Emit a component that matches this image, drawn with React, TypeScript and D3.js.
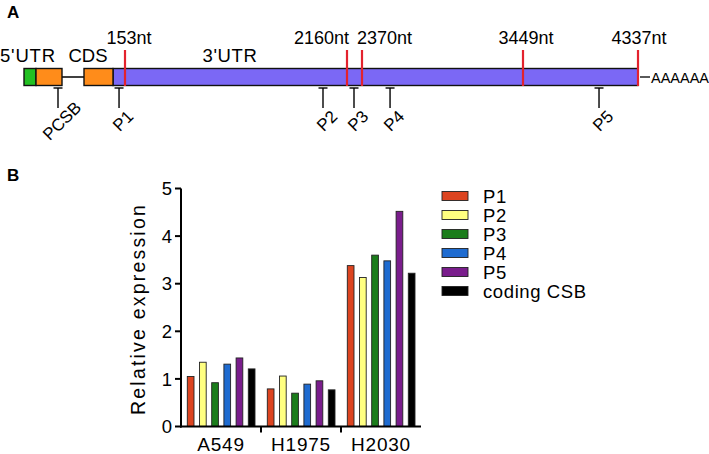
import React from "react";
import * as d3 from "d3";

// ---------- Data ----------
const siteNt = [153, 2160, 2370, 3449, 4337];
const siteLabels = ["153nt", "2160nt", "2370nt", "3449nt", "4337nt"];
const probeNames = ["PCSB", "P1", "P2", "P3", "P4", "P5"];
const probeNt = [-55, 77, 1943, 2258, 2558, 4036];

const cellLines = ["A549", "H1975", "H2030"];
const seriesNames = ["P1", "P2", "P3", "P4", "P5", "coding CSB"];
const valuesA549 = [1.05, 1.35, 0.92, 1.31, 1.44, 1.21];
const valuesH1975 = [0.79, 1.06, 0.7, 0.89, 0.96, 0.77];
const valuesH2030 = [3.38, 3.13, 3.6, 3.48, 4.52, 3.22];
const yTicks = [0, 1, 2, 3, 4, 5];

const seriesColors = ["#dc4420", "#ffff80", "#1b7d1b", "#1e6bd0", "#7a1d8c", "#000000"];

const FONT = "'Liberation Sans', Arial, Helvetica, sans-serif";

export default function App() {
  const rows = [valuesA549, valuesH1975, valuesH2030];

  // Panel A scales
  const utrScale = d3
    .scaleLinear()
    .domain([0, 153, 2160, 2370, 3449, 4337])
    .range([113, 125, 347, 362, 523, 638]);
  const upScale = d3.scaleLinear().domain([-89, 0]).range([24, 113]);
  const px = (nt: number) => (nt < 0 ? upScale(nt) : utrScale(nt));

  const labelShift = [
    { anchor: "middle", dx: 4 },
    { anchor: "end", dx: 2 },
    { anchor: "start", dx: -5 },
    { anchor: "middle", dx: 3 },
    { anchor: "middle", dx: 1 },
  ];

  const rectY = 68.5;
  const rectH = 17;

  // Panel B scales
  const y = d3.scaleLinear().domain([0, 5]).range([426.5, 188.5]);
  const xGroup = d3.scaleBand<string>().domain(cellLines).range([181, 421]).padding(0);
  const xInner = d3
    .scaleBand<string>()
    .domain(seriesNames)
    .range([6.3, 74])
    .paddingInner(0.451)
    .paddingOuter(0);

  return (
    <svg
      width={709}
      height={454}
      style={{ position: "absolute", left: 0, top: 0, background: "#fff" }}
      fontFamily={FONT}
    >
      {/* Panel labels */}
      <text x={7} y={18} fontSize={17} fontWeight="bold">A</text>
      <text x={7} y={181} fontSize={17} fontWeight="bold">B</text>

      {/* Region labels */}
      <text x={0} y={62} fontSize={18.5} letterSpacing={0.8}>5'UTR</text>
      <text x={88} y={62} fontSize={18.5} textAnchor="middle">CDS</text>
      <text x={230} y={62} fontSize={18.5} textAnchor="middle" letterSpacing={0.6}>3'UTR</text>

      {/* Transcript */}
      <line x1={upScale(-51)} x2={upScale(-29)} y1={rectY + rectH / 2} y2={rectY + rectH / 2} stroke="#000" strokeWidth={1.5} />
      <rect x={utrScale(0)} y={rectY} width={utrScale(4337) - utrScale(0)} height={rectH} fill="#7b68f5" stroke="#111" strokeWidth={1.4} />
      <rect x={upScale(-89)} y={rectY} width={upScale(-77) - upScale(-89)} height={rectH} fill="#22c022" stroke="#111" strokeWidth={1.4} />
      <rect x={upScale(-77)} y={rectY} width={upScale(-51) - upScale(-77)} height={rectH} fill="#ff8c1a" stroke="#111" strokeWidth={1.4} />
      <rect x={upScale(-29)} y={rectY} width={upScale(0) - upScale(-29)} height={rectH} fill="#ff8c1a" stroke="#111" strokeWidth={1.4} />

      {/* Red sites */}
      {siteNt.map((nt, i) => (
        <g key={nt}>
          <line x1={utrScale(nt)} x2={utrScale(nt)} y1={50} y2={86} stroke="#e3222e" strokeWidth={2.2} />
          <text
            x={utrScale(nt) + labelShift[i].dx}
            y={44}
            fontSize={18}
            textAnchor={labelShift[i].anchor as any}
          >
            {siteLabels[i]}
          </text>
        </g>
      ))}

      {/* Poly-A tail */}
      <line x1={640} x2={650} y1={77} y2={77} stroke="#000" strokeWidth={1.3} />
      <text x={651} y={82.5} fontSize={14.5}>AAAAAA</text>

      {/* Probes */}
      {probeNt.map((nt, i) => {
        const x = px(nt);
        return (
          <g key={probeNames[i]}>
            <line x1={x - 4.5} x2={x + 4.5} y1={88} y2={88} stroke="#000" strokeWidth={1.4} />
            <line x1={x} x2={x} y1={88} y2={108} stroke="#000" strokeWidth={1.4} />
            <text
              transform={`translate(${x + 8},${125}) rotate(-45)`}
              fontSize={17}
              textAnchor="middle"
            >
              {probeNames[i]}
            </text>
          </g>
        );
      })}

      {/* Panel B bars */}
      {cellLines.map((cl, gi) => (
        <g key={cl} transform={`translate(${xGroup(cl)},0)`}>
          {rows[gi].map((v, si) => (
            <rect
              key={si}
              x={xInner(seriesNames[si])}
              y={y(v)}
              width={xInner.bandwidth()}
              height={y(0) - y(v)}
              fill={seriesColors[si]}
              stroke="#222"
              strokeWidth={0.9}
            />
          ))}
        </g>
      ))}

      {/* Y axis */}
      <line x1={181} x2={181} y1={y(5)} y2={y(0) + 1} stroke="#000" strokeWidth={2} />
      {yTicks.map((t) => (
        <g key={t}>
          <line x1={175} x2={181} y1={y(t)} y2={y(t)} stroke="#000" strokeWidth={2} />
          <text x={172} y={y(t)} dy="0.36em" fontSize={18.5} textAnchor="end">
            {t}
          </text>
        </g>
      ))}
      <text
        transform={`translate(${145},${309}) rotate(-90)`}
        fontSize={19.5}
        letterSpacing={2.2}
        textAnchor="middle"
      >
        Relative expression
      </text>

      {/* X axis */}
      <line x1={180} x2={421} y1={y(0)} y2={y(0)} stroke="#000" strokeWidth={2} />
      {cellLines.slice(1).map((cl) => (
        <line key={cl} x1={xGroup(cl)} x2={xGroup(cl)} y1={y(0)} y2={y(0) + 6} stroke="#000" strokeWidth={2} />
      ))}
      {cellLines.map((cl) => (
        <text
          key={cl}
          x={(xGroup(cl) as number) + xGroup.bandwidth() / 2}
          y={451}
          fontSize={19}
          textAnchor="middle"
          letterSpacing={0.8}
        >
          {cl}
        </text>
      ))}

      {/* Legend */}
      {seriesNames.map((s, i) => (
        <g key={s} transform={`translate(442,${191.5 + i * 19})`}>
          <rect x={0} y={0} width={26} height={9} fill={seriesColors[i]} stroke="#222" strokeWidth={0.9} />
          <text x={41} y={11.5} fontSize={18.5} letterSpacing={0.6}>
            {s}
          </text>
        </g>
      ))}
    </svg>
  );
}
